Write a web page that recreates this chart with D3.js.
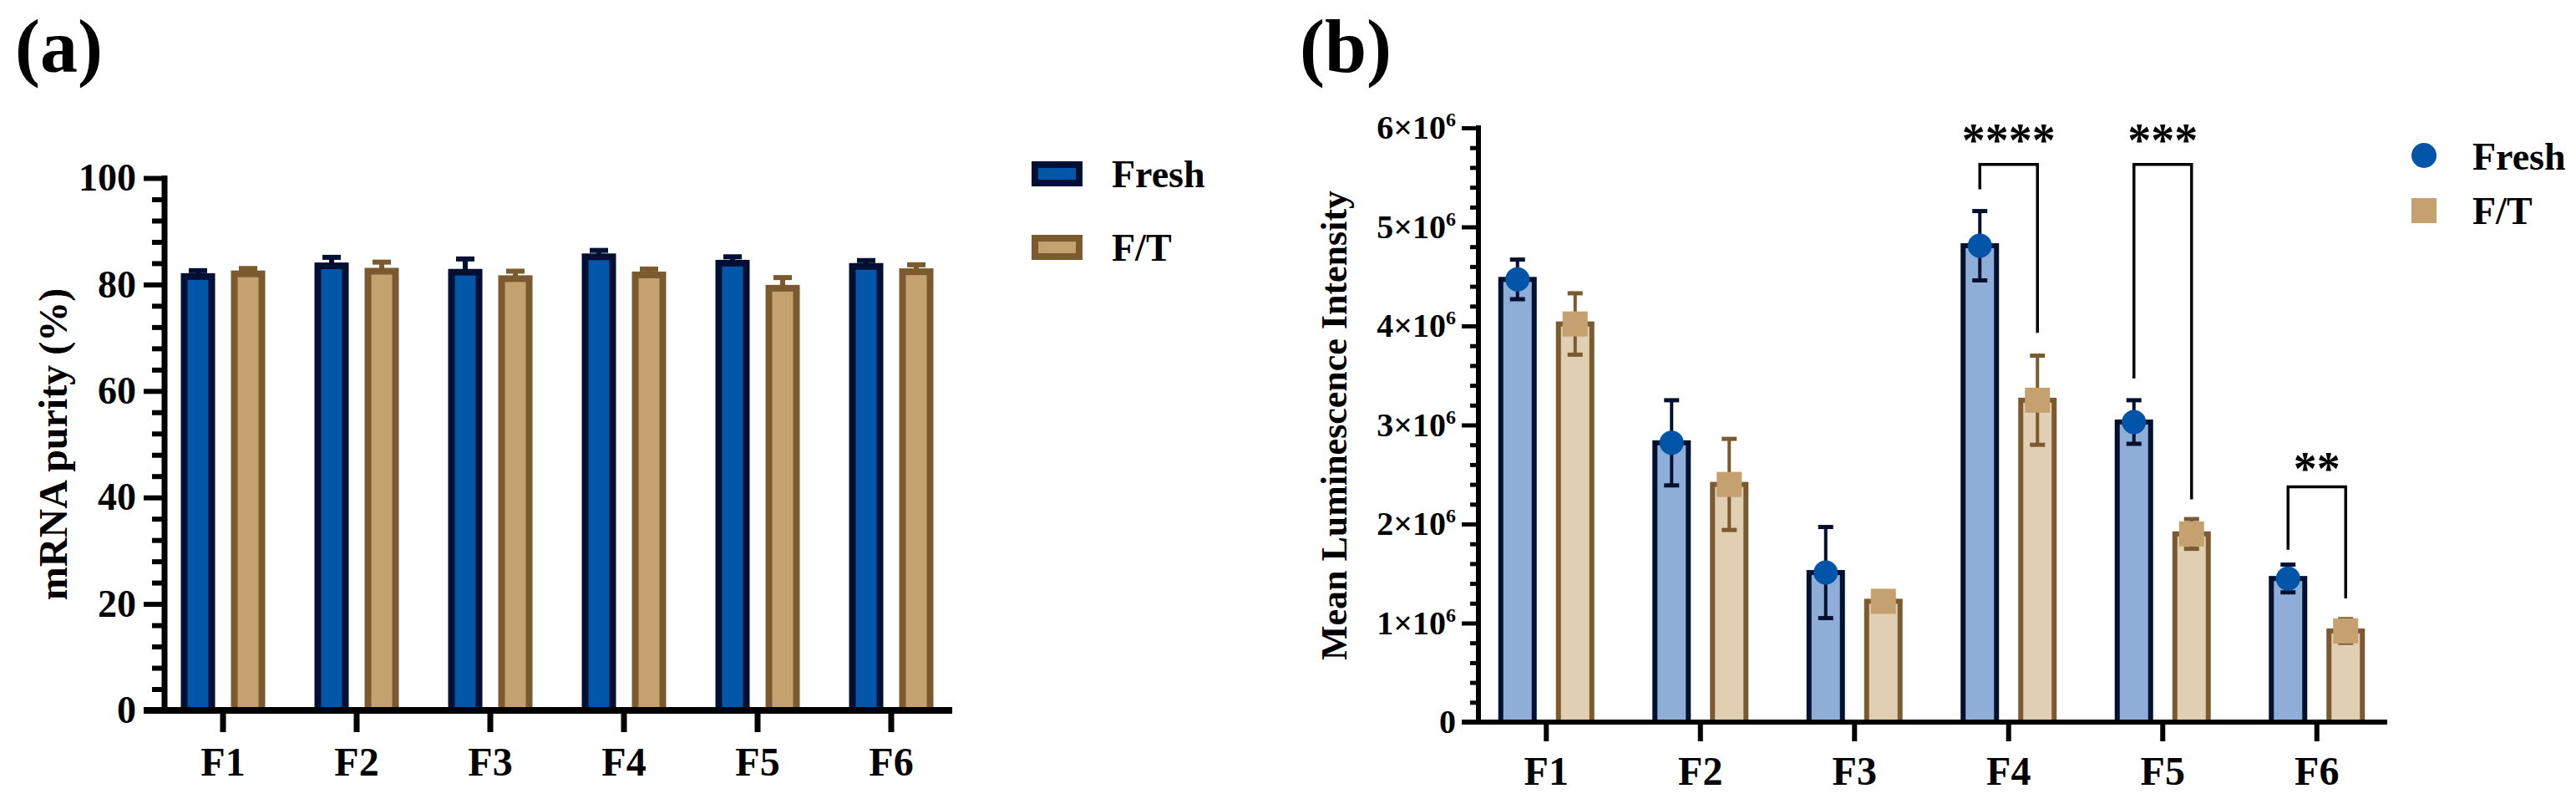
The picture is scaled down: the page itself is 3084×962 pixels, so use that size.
<!DOCTYPE html>
<html>
<head>
<meta charset="utf-8">
<script src="https://cdn.jsdelivr.net/npm/d3@7"></script>
<style>
  body { margin: 0; background: #fff; }
  svg { display: block; }
  text { font-family: "Liberation Serif", "Times New Roman", serif; font-weight: bold; }
</style>
</head>
<body>
<div id="chart-region"></div>
<script>
// ---- data ----
const categories = ["F1", "F2", "F3", "F4", "F5", "F6"];
const series = ["Fresh", "F/T"];

// (a) mRNA purity (%)
const purityFresh = [81.5, 83.5, 82.3, 85.2, 84.0, 83.4];
const purityFreshSd = [1.1, 1.6, 2.5, 1.2, 1.2, 1.1];
const purityFT = [82.0, 82.5, 81.1, 81.8, 79.3, 82.4];
const purityFTSd = [1.0, 1.7, 1.4, 1.1, 2.0, 1.3];
const purityTicks = [0, 20, 40, 60, 80, 100];

// (b) mean luminescence intensity
const lumFresh = [4470000, 2820000, 1510000, 4810000, 3030000, 1450000];
const lumFreshSd = [200000, 430000, 460000, 350000, 220000, 140000];
const lumFT = [4020000, 2400000, 1220000, 3250000, 1900000, 920000];
const lumFTSd = [310000, 460000, 80000, 450000, 150000, 120000];
const lumTicks = [0, 1000000, 2000000, 3000000, 4000000, 5000000, 6000000];

// significance brackets
const sigCategories = ["F4", "F5", "F6"];
const sigLabels = ["****", "***", "**"];
const sigTop = [5630000, 5630000, 2375000];
const sigLeftEnd = [5380000, 3470000, 1740000];
const sigRightEnd = [3930000, 2250000, 1250000];
const sigLabelAt = [5950000, 5950000, 2630000];

const W = 3084, H = 962;
const COLORS = {
  a: {Fresh: {fill: "#0057a8", stroke: "#000f33"}, "F/T": {fill: "#c4a16f", stroke: "#7a5a2e"}},
  b: {Fresh: {fill: "#8eaed8", stroke: "#00112f"}, "F/T": {fill: "#e1cfb4", stroke: "#7a5a2e"}},
  marker: {Fresh: "#0055a8", "F/T": "#c4a16f"}
};

const chart = d3.select("#chart-region").append("svg")
    .attr("width", W)
    .attr("height", H)
    .style("background", "#fff");

// ---------- panel (a) ----------
function drawPurity() {
  const AX = 197, Y0 = 850, Y1 = 213, XEND = 1140;
  const g = chart.append("g");
  const x = d3.scaleBand().domain(categories).range([187, 1147]);
  const xs = d3.scaleBand().domain(series).range([-60, 60]);
  const y = d3.scaleLinear().domain([0, 100]).range([Y0, Y1]);
  const cx = (c, s) => x(c) + x.bandwidth() / 2 + xs(s) + xs.bandwidth() / 2;

  const rows = [];
  categories.forEach((c, i) => {
    rows.push({c, s: "Fresh", v: purityFresh[i], sd: purityFreshSd[i]});
    rows.push({c, s: "F/T", v: purityFT[i], sd: purityFTSd[i]});
  });

  const BW = 33;
  // error bars (upper only)
  const err = g.append("g");
  err.selectAll("line.v").data(rows).enter().append("line")
      .attr("x1", d => cx(d.c, d.s)).attr("x2", d => cx(d.c, d.s))
      .attr("y1", d => y(d.v)).attr("y2", d => y(d.v + d.sd))
      .attr("stroke", d => COLORS.a[d.s].stroke).attr("stroke-width", 6);
  err.selectAll("line.cap").data(rows).enter().append("line")
      .attr("x1", d => cx(d.c, d.s) - 11).attr("x2", d => cx(d.c, d.s) + 11)
      .attr("y1", d => y(d.v + d.sd)).attr("y2", d => y(d.v + d.sd))
      .attr("stroke", d => COLORS.a[d.s].stroke).attr("stroke-width", 6);

  // bars
  g.append("g").selectAll("rect").data(rows).enter().append("rect")
      .attr("x", d => cx(d.c, d.s) - BW / 2)
      .attr("y", d => y(d.v))
      .attr("width", BW)
      .attr("height", d => y(0) - y(d.v))
      .attr("fill", d => COLORS.a[d.s].fill)
      .attr("stroke", d => COLORS.a[d.s].stroke)
      .attr("stroke-width", 8);

  // minor ticks
  const minor = d3.range(0, 101, 4).filter(v => v % 20 !== 0);
  g.append("g").attr("transform", `translate(${AX},0)`)
      .call(d3.axisLeft(y).tickValues(minor).tickSize(15).tickFormat(""))
      .call(s => s.select(".domain").remove())
      .call(s => s.selectAll("line").attr("stroke", "#000").attr("stroke-width", 6));

  // y axis
  g.append("g").attr("transform", `translate(${AX},0)`)
      .call(d3.axisLeft(y).tickValues(purityTicks).tickSize(25).tickSizeOuter(0).tickPadding(9))
      .call(s => s.select(".domain").attr("stroke-width", 7).attr("d", `M0,${Y0 + 4}V${Y1 - 3}`))
      .call(s => s.selectAll("line").attr("stroke-width", 6))
      .call(s => s.selectAll("text").attr("font-size", 46).attr("fill", "#000")
          .attr("font-family", "Liberation Serif").attr("font-weight", "bold"));

  // x axis
  g.append("g").attr("transform", `translate(0,${Y0})`)
      .call(d3.axisBottom(x).tickSize(26).tickSizeOuter(0).tickPadding(18))
      .call(s => s.select(".domain").attr("stroke-width", 8).attr("d", `M${AX - 25},0H${XEND}`))
      .call(s => s.selectAll("line").attr("stroke-width", 7))
      .call(s => s.selectAll("text").attr("font-size", 48).attr("fill", "#000")
          .attr("font-family", "Liberation Serif").attr("font-weight", "bold"));

  // y label
  g.append("text")
      .attr("transform", `translate(80, ${(Y0 + Y1) / 2}) rotate(-90)`)
      .attr("text-anchor", "middle")
      .attr("font-size", 48)
      .text("mRNA purity (%)");

  // legend
  const leg = g.append("g");
  series.forEach((s, i) => {
    const ly = 208 + i * 88;
    leg.append("rect")
        .attr("x", 1239).attr("y", ly - 11)
        .attr("width", 53).attr("height", 22)
        .attr("fill", COLORS.a[s].fill)
        .attr("stroke", COLORS.a[s].stroke)
        .attr("stroke-width", 8);
    leg.append("text")
        .attr("x", 1331).attr("y", ly + 16)
        .attr("font-size", 46)
        .text(s);
  });

  g.append("text").attr("x", 18).attr("y", 86).attr("font-size", 90).text("(a)");
}

// ---------- panel (b) ----------
function drawLuminescence() {
  const AX = 1770, Y0 = 864, Y1 = 153, XEND = 2858;
  const g = chart.append("g");
  const x = d3.scaleBand().domain(categories).range([1759, 2866]);
  const xs = d3.scaleBand().domain(series).range([-69, 69]);
  const y = d3.scaleLinear().domain([0, 6000000]).range([Y0, Y1]);
  const cx = (c, s) => x(c) + x.bandwidth() / 2 + xs(s) + xs.bandwidth() / 2;

  const rows = [];
  categories.forEach((c, i) => {
    rows.push({c, s: "Fresh", v: lumFresh[i], sd: lumFreshSd[i]});
    rows.push({c, s: "F/T", v: lumFT[i], sd: lumFTSd[i]});
  });

  const BW = 40;
  // bars
  g.append("g").selectAll("rect").data(rows).enter().append("rect")
      .attr("x", d => cx(d.c, d.s) - BW / 2)
      .attr("y", d => y(d.v))
      .attr("width", BW)
      .attr("height", d => y(0) - y(d.v))
      .attr("fill", d => COLORS.b[d.s].fill)
      .attr("stroke", d => COLORS.b[d.s].stroke)
      .attr("stroke-width", 6);

  // error bars
  const err = g.append("g");
  err.selectAll("line.v").data(rows).enter().append("line")
      .attr("x1", d => cx(d.c, d.s)).attr("x2", d => cx(d.c, d.s))
      .attr("y1", d => y(d.v - d.sd)).attr("y2", d => y(d.v + d.sd))
      .attr("stroke", d => COLORS.b[d.s].stroke).attr("stroke-width", 4);
  [1, -1].forEach(sign => {
    err.selectAll(null).data(rows).enter().append("line")
        .attr("x1", d => cx(d.c, d.s) - 9).attr("x2", d => cx(d.c, d.s) + 9)
        .attr("y1", d => y(d.v + sign * d.sd)).attr("y2", d => y(d.v + sign * d.sd))
        .attr("stroke", d => COLORS.b[d.s].stroke).attr("stroke-width", 5);
  });

  // markers
  const mk = g.append("g");
  mk.selectAll("circle").data(rows.filter(d => d.s === "Fresh")).enter().append("circle")
      .attr("cx", d => cx(d.c, d.s)).attr("cy", d => y(d.v)).attr("r", 14.5)
      .attr("fill", COLORS.marker.Fresh);
  mk.selectAll("rect").data(rows.filter(d => d.s === "F/T")).enter().append("rect")
      .attr("x", d => cx(d.c, d.s) - 15).attr("y", d => y(d.v) - 15)
      .attr("width", 30).attr("height", 30)
      .attr("fill", COLORS.marker["F/T"]);

  // minor ticks
  const minor = d3.range(0, 6000001, 200000).filter(v => v % 1000000 !== 0);
  g.append("g").attr("transform", `translate(${AX},0)`)
      .call(d3.axisLeft(y).tickValues(minor).tickSize(10).tickFormat(""))
      .call(s => s.select(".domain").remove())
      .call(s => s.selectAll("line").attr("stroke", "#000").attr("stroke-width", 5));

  // y axis
  g.append("g").attr("transform", `translate(${AX},0)`)
      .call(d3.axisLeft(y).tickValues(lumTicks).tickSize(20).tickSizeOuter(0).tickPadding(7))
      .call(s => s.select(".domain").attr("stroke-width", 6).attr("d", `M0,${Y0 + 3}V${Y1 - 3}`))
      .call(s => s.selectAll("line").attr("stroke-width", 5))
      .call(s => s.selectAll("text").attr("font-size", 40).attr("fill", "#000")
          .attr("font-family", "Liberation Serif").attr("font-weight", "bold")
          .each(function (d) {
            const t = d3.select(this);
            t.text(null);
            if (d === 0) { t.text("0"); return; }
            t.append("tspan").text(`${d / 1000000}×10`);
            t.append("tspan").attr("dy", -15).attr("font-size", 24).text("6");
          }));

  // x axis
  g.append("g").attr("transform", `translate(0,${Y0})`)
      .call(d3.axisBottom(x).tickSize(23).tickSizeOuter(0).tickPadding(18))
      .call(s => s.select(".domain").attr("stroke-width", 6).attr("d", `M${AX - 20},0H${XEND}`))
      .call(s => s.selectAll("line").attr("stroke-width", 6))
      .call(s => s.selectAll("text").attr("font-size", 48).attr("fill", "#000")
          .attr("font-family", "Liberation Serif").attr("font-weight", "bold"));

  // significance brackets
  const sig = g.append("g");
  sigCategories.forEach((c, i) => {
    const xl = cx(c, "Fresh"), xr = cx(c, "F/T");
    sig.append("path")
        .attr("d", `M${xl},${y(sigLeftEnd[i])}V${y(sigTop[i])}H${xr}V${y(sigRightEnd[i])}`)
        .attr("fill", "none").attr("stroke", "#000").attr("stroke-width", 3.5);
    sig.append("text")
        .attr("x", (xl + xr) / 2).attr("y", y(sigLabelAt[i]) + 28)
        .attr("text-anchor", "middle").attr("font-size", 56)
        .text(sigLabels[i]);
  });

  // y label
  g.append("text")
      .attr("transform", `translate(1612, 509) rotate(-90)`)
      .attr("text-anchor", "middle")
      .attr("font-size", 44)
      .text("Mean Luminescence Intensity");

  // legend
  const leg = g.append("g");
  leg.append("circle").attr("cx", 2902).attr("cy", 186).attr("r", 15).attr("fill", COLORS.marker.Fresh);
  leg.append("rect").attr("x", 2887).attr("y", 237).attr("width", 30).attr("height", 30).attr("fill", COLORS.marker["F/T"]);
  leg.append("text").attr("x", 2960).attr("y", 203).attr("font-size", 46).text("Fresh");
  leg.append("text").attr("x", 2960).attr("y", 268).attr("font-size", 46).text("F/T");

  g.append("text").attr("x", 1556).attr("y", 86).attr("font-size", 90).text("(b)");
}

drawPurity();
drawLuminescence();
</script>
</body>
</html>
